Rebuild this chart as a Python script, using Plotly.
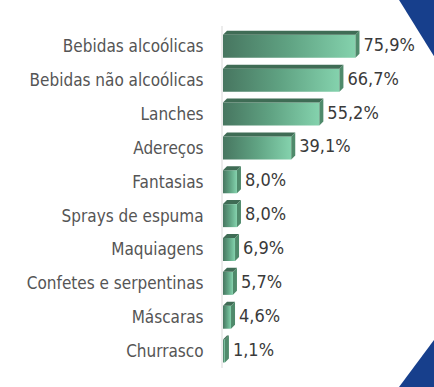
import plotly.graph_objects as go

categories = ["Bebidas alcoólicas", "Bebidas não alcoólicas", "Lanches", "Adereços",
              "Fantasias", "Sprays de espuma", "Maquiagens", "Confetes e serpentinas",
              "Máscaras", "Churrasco"]
values = [75.9, 66.7, 55.2, 39.1, 8.0, 8.0, 6.9, 5.7, 4.6, 1.1]
value_labels = ["75,9%", "66,7%", "55,2%", "39,1%", "8,0%", "8,0%", "6,9%", "5,7%", "4,6%", "1,1%"]

W_PX, H_PX = 434, 387
L, R, T, B = 223, 19, 26, 19
XMAX = 110
YR = (9.5, -0.6)
plot_w = W_PX - L - R
plot_h = H_PX - T - B
px_per_x = plot_w / XMAX
px_per_y = plot_h / (YR[0] - YR[1])

half = 0.34             # half bar thickness (category units)
dx = 4 / px_per_x       # 3D depth, x units
dy = 4 / px_per_y       # 3D depth, y units
label_gap = 4 / px_per_x

FONT = "DejaVu Sans Condensed, DejaVu Sans, sans-serif"

fig = go.Figure()

top_x, top_y, side_x, side_y = [], [], [], []
for i, v in enumerate(values):
    y0, y1 = i + half, i - half   # y0 bottom, y1 top (reversed axis)
    fig.add_trace(go.Scatter(
        x=[0, v, v, 0, 0], y=[y0, y0, y1, y1, y0],
        mode="lines", line=dict(width=0), fill="toself",
        fillgradient=dict(type="horizontal",
                          colorscale=[[0, "#477660"], [0.5, "#60a383"], [1, "#84d2ad"]]),
        hoverinfo="skip", showlegend=False))
    top_x += [0, v, v + dx, dx, 0, None]
    top_y += [y1, y1, y1 - dy, y1 - dy, y1, None]
    side_x += [v, v + dx, v + dx, v, v, None]
    side_y += [y1, y1 - dy, y0 - dy, y0, y1, None]

fig.add_trace(go.Scatter(x=top_x, y=top_y, mode="lines", line=dict(width=0),
                         fill="toself", fillcolor="#3f6c55",
                         hoverinfo="skip", showlegend=False))
fig.add_trace(go.Scatter(x=side_x, y=side_y, mode="lines", line=dict(width=0),
                         fill="toself", fillcolor="#4f8a6b",
                         hoverinfo="skip", showlegend=False))

fig.add_trace(go.Scatter(
    x=[v + dx + label_gap for v in values], y=list(range(len(values))),
    mode="text", text=value_labels, textposition="middle right",
    textfont=dict(family=FONT, size=18, color="#3a3a3a"),
    cliponaxis=False, hoverinfo="skip", showlegend=False))

def px2paper(px, py):
    return (px - L) / plot_w, (H_PX - B - py) / plot_h

def tri(points):
    pts = [px2paper(x, y) for x, y in points]
    return "M " + " L ".join(f"{x:.4f},{y:.4f}" for x, y in pts) + " Z"

shapes = [
    dict(type="path", xref="paper", yref="paper", layer="above",
         path=tri([(396, -5), (440, -5), (440, 66)]),
         fillcolor="#173f8c", line=dict(width=0)),
    dict(type="path", xref="paper", yref="paper", layer="above",
         path=tri([(395.3, 392), (440, 392), (440, 332)]),
         fillcolor="#173f8c", line=dict(width=0)),
]

fig.update_layout(
    width=W_PX, height=H_PX,
    margin=dict(l=L, r=R, t=T, b=B, pad=0),
    paper_bgcolor="white", plot_bgcolor="white",
    shapes=shapes,
    xaxis=dict(range=[0, XMAX], showgrid=False, zeroline=False, showticklabels=False,
               showline=False, fixedrange=True),
    yaxis=dict(range=list(YR), autorange=False, tickmode="array",
               tickvals=list(range(len(categories))), ticktext=categories,
               showgrid=False, zeroline=False, showline=True, linecolor="#ececec",
               linewidth=2, ticks="", ticklabelstandoff=14,
               tickfont=dict(family=FONT, size=17, color="#555555"), fixedrange=True),
)

fig.write_html("out.html", config={"displayModeBar": False},
               post_script="document.body.style.margin='0';document.body.style.overflow='hidden';")
